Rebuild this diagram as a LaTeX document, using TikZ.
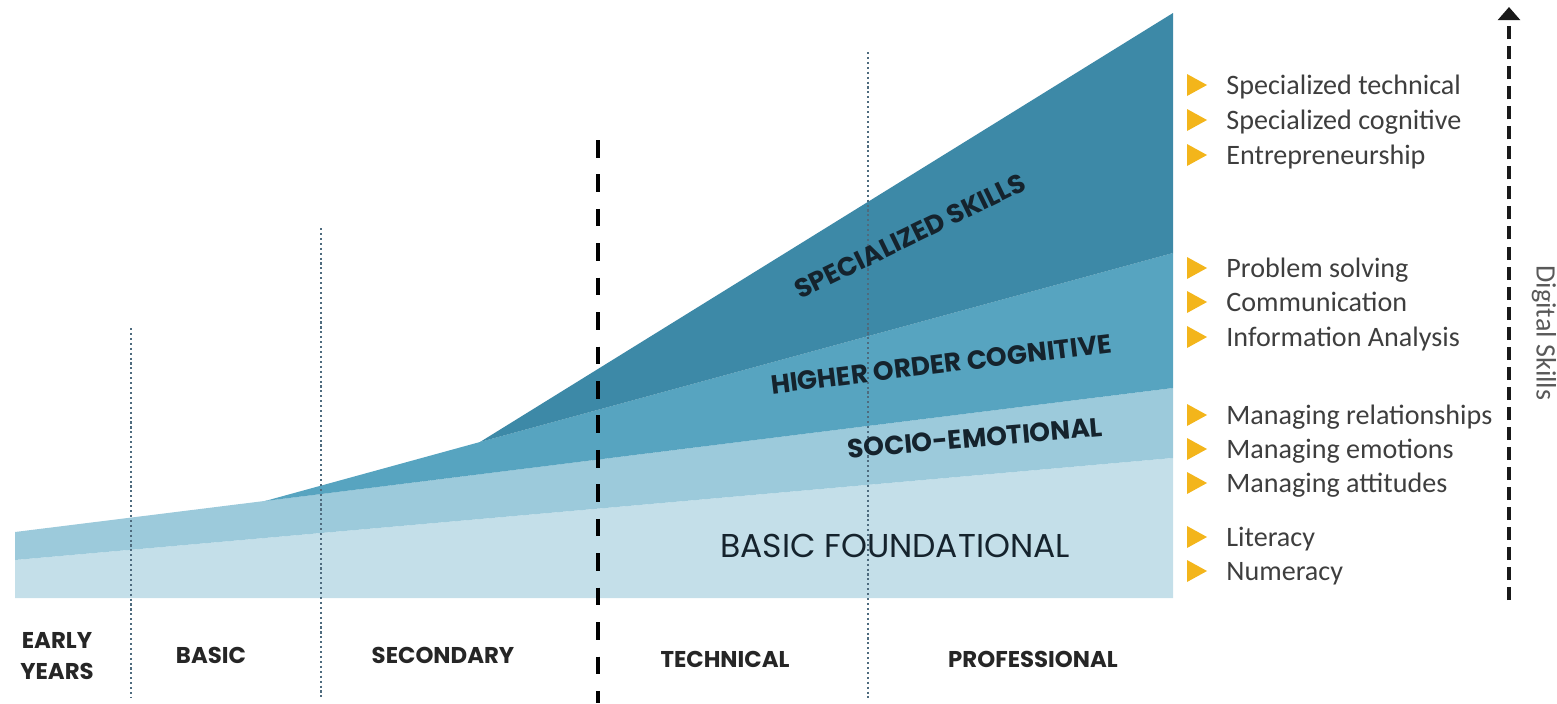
\documentclass[tikz,border=0pt]{standalone}
\usepackage{fontspec}
\newfontfamily\geofont{Poppins}
\newfontfamily\listfont{Carlito}
\usetikzlibrary{arrows.meta}
\definecolor{foundcolor}{HTML}{C4DFE9}
\definecolor{sociocolor}{HTML}{9CCADB}
\definecolor{cogcolor}{HTML}{57A4C0}
\definecolor{speccolor}{HTML}{3D89A7}
\definecolor{bulletcolor}{HTML}{F3B51B}
\definecolor{labelink}{HTML}{15232D}
\definecolor{listink}{HTML}{3E3E3E}
\definecolor{gridline}{HTML}{4E6B7E}

\begin{document}
\begin{tikzpicture}[x=0.02cm,y=-0.02cm]

\tikzstyle{stage_label} = [font={\geofont\bfseries\fontsize{13}{18}\selectfont},text=black!85,align=center,inner sep=0]
\tikzstyle{band_label} = [font={\geofont\bfseries\fontsize{15}{18}\selectfont},text=labelink,inner sep=0]
\tikzstyle{base_label} = [font={\geofont\fontsize{18.8}{22}\selectfont},text=labelink,inner sep=0]
\tikzstyle{skill_item} = [font={\listfont\fontsize{16}{19}\selectfont},text=listink,anchor=base west,inner sep=0]
\tikzstyle{bullet_mark} = [fill=bulletcolor]
\tikzstyle{stage_divider} = [draw=gridline,line width=0.7pt,dash pattern=on 1.2pt off 1.6pt]
\tikzstyle{main_divider} = [draw=black,line width=2.8pt,dash pattern=on 10pt off 9.6pt]
\tikzstyle{digital_arrow_edge} = [-{Triangle[width=12.5pt,length=7.5pt]},draw=black!90,line width=2.4pt,dash pattern=on 7.4pt off 4pt]

\useasboundingbox (0,0) rectangle (1557,703);

% skill bands
\fill [foundcolor] (15,598) -- (15,560) -- (1173,458) -- (1173,598) -- cycle;
\fill [sociocolor] (15,560) -- (15,532) -- (1173,388) -- (1173,458) -- cycle;
\fill [cogcolor] (265,501) -- (480,442) -- (1173,253) -- (1173,388) -- cycle;
\fill [speccolor] (480,442) -- (1173,13) -- (1173,253) -- cycle;

% stage dividers
\draw [stage_divider] (131,328) -- (131,698);
\draw [stage_divider] (321,228) -- (321,698);
\draw [stage_divider] (868,52) -- (868,698);
\draw [main_divider] (598,140) -- (598,703);

\node [base_label] (found) at (895,546) {BASIC FOUNDATIONAL};
\node [band_label,rotate=5] (socio) at (975,438) {SOCIO-EMOTIONAL};
\node [band_label,rotate=7] (cog) at (941,364) {HIGHER ORDER COGNITIVE};
\node [band_label,rotate=26] (spec) at (910,236) {SPECIALIZED SKILLS};

\node [stage_label] (early) at (57,656) {EARLY\\YEARS};
\node [stage_label] (basic) at (211,655) {BASIC};
\node [stage_label] (secondary) at (443,655) {SECONDARY};
\node [stage_label] (technical) at (725,659) {TECHNICAL};
\node [stage_label] (professional) at (1033,659) {PROFESSIONAL};

% skill list
\fill [bullet_mark] (1187,74) -- (1207,85) -- (1187,96) -- cycle;
\fill [bullet_mark] (1187,109) -- (1207,120) -- (1187,131) -- cycle;
\fill [bullet_mark] (1187,144) -- (1207,155) -- (1187,166) -- cycle;
\fill [bullet_mark] (1187,257) -- (1207,268) -- (1187,279) -- cycle;
\fill [bullet_mark] (1187,291) -- (1207,302) -- (1187,313) -- cycle;
\fill [bullet_mark] (1187,326) -- (1207,337) -- (1187,348) -- cycle;
\fill [bullet_mark] (1187,404) -- (1207,415) -- (1187,426) -- cycle;
\fill [bullet_mark] (1187,438) -- (1207,449) -- (1187,460) -- cycle;
\fill [bullet_mark] (1187,472) -- (1207,483) -- (1187,494) -- cycle;
\fill [bullet_mark] (1187,526) -- (1207,537) -- (1187,548) -- cycle;
\fill [bullet_mark] (1187,560) -- (1207,571) -- (1187,582) -- cycle;

\node [skill_item] (spectech) at (1226,94) {Specialized technical};
\node [skill_item] (speccog) at (1226,129) {Specialized cognitive};
\node [skill_item] (entre) at (1226,164) {Entrepreneurship};
\node [skill_item] (problem) at (1226,277) {Problem solving};
\node [skill_item] (comm) at (1226,311) {Communication};
\node [skill_item] (info) at (1226,346) {Information Analysis};
\node [skill_item] (relations) at (1226,424) {Managing relationships};
\node [skill_item] (emotions) at (1226,458) {Managing emotions};
\node [skill_item] (attitudes) at (1226,492) {Managing attitudes};
\node [skill_item] (literacy) at (1226,546) {Literacy};
\node [skill_item] (numeracy) at (1226,580) {Numeracy};

% digital skills axis
\coordinate (axis_low) at (1509,600);
\coordinate (axis_high) at (1509,7);
\draw [digital_arrow_edge] (axis_low) -- (axis_high);
\node [font={\listfont\fontsize{16}{19}\selectfont},text=black!65,rotate=-90,inner sep=0] (digital) at (1544,333) {Digital Skills};
\end{tikzpicture}
\end{document}
